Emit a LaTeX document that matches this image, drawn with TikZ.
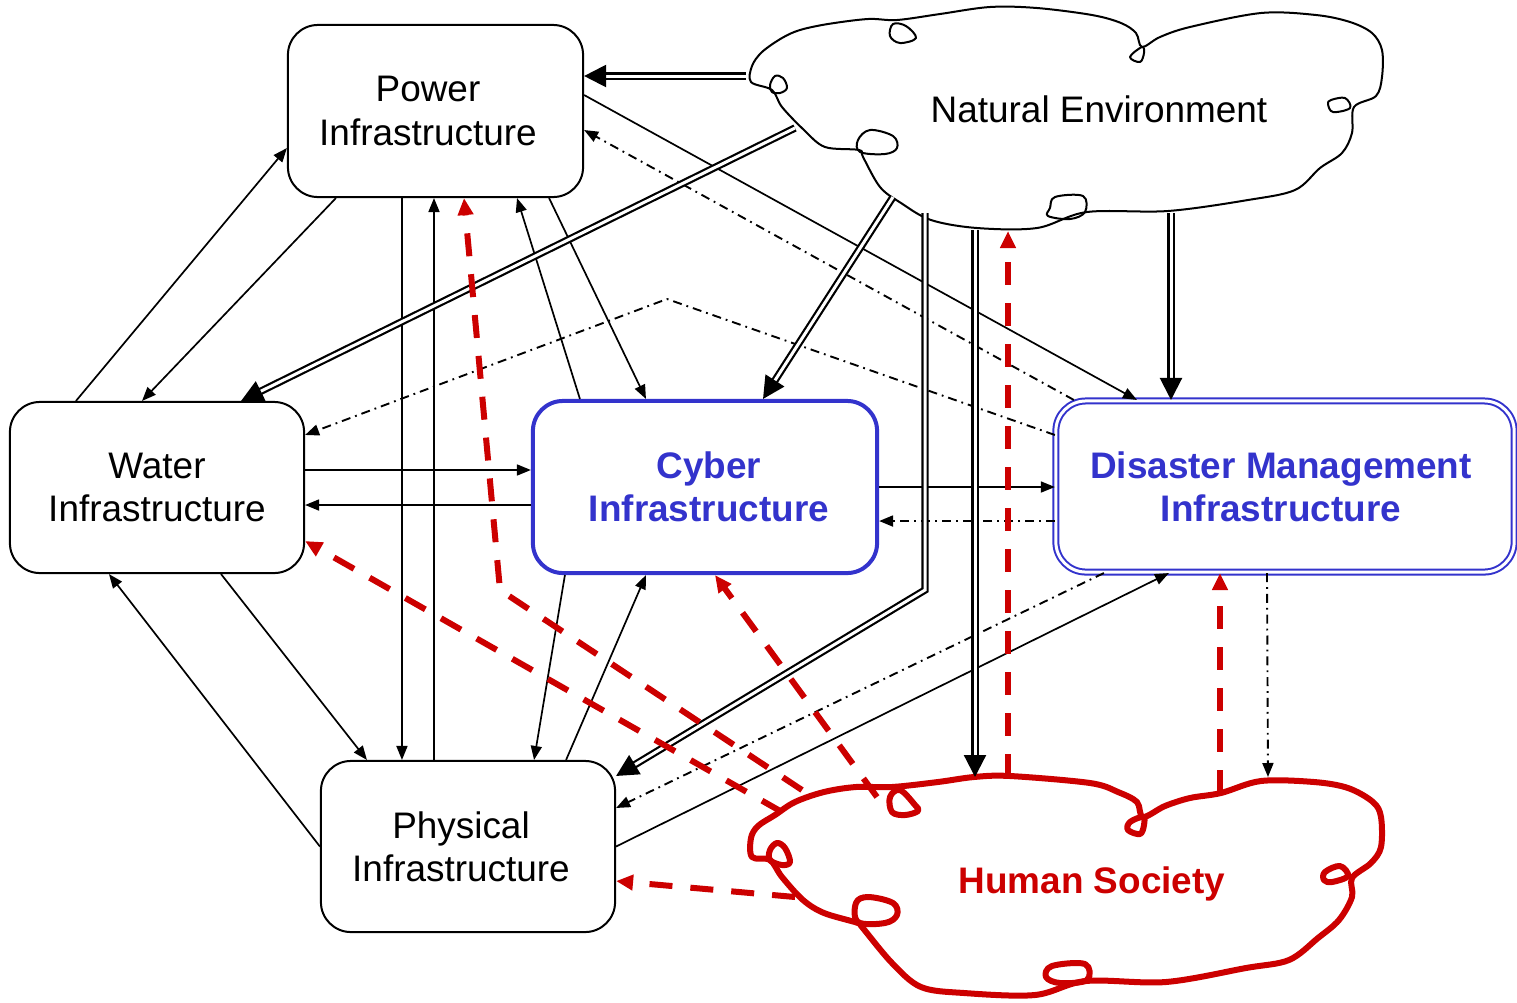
\documentclass[tikz,border=0pt]{standalone}
\usepackage{fontspec}
\setmainfont{Liberation Sans}
\usetikzlibrary{arrows.meta,calc}
\definecolor{netblue}{RGB}{51,51,204}
\definecolor{humanred}{RGB}{204,0,0}
% nudge a centred line sideways inside its box
\newcommand{\lineshift}[2]{#2\kern#1}
\begin{document}
\begin{tikzpicture}[x=0.01cm,y=-0.01cm,
  lbl/.style={font=\fontsize{10.5pt}{12.3pt}\selectfont},
  box/.style={lbl, draw, line width=0.02cm, rounded corners=0.3cm, align=center, inner sep=0pt},
  cyberbox/.style={box, draw=netblue, line width=0.04cm, text=netblue, font=\fontsize{10.5pt}{12.3pt}\selectfont\bfseries},
  dmbox/.style={box, draw=netblue, double=white, double distance=0.03cm, line width=0.02cm, text=netblue, font=\fontsize{10.5pt}{12.3pt}\selectfont\bfseries},
  link/.style={line width=0.017cm, -{Triangle[length=0.14cm,width=0.11cm]}},
  dlink/.style={line width=0.019cm, dash pattern=on 0.09cm off 0.05cm on 0.018cm off 0.05cm, -{Triangle[length=0.14cm,width=0.11cm]}},
  nlink/.style={double=white, line width=0.022cm, double distance=0.03cm, -{Triangle[length=0.22cm,width=0.22cm]}},
  hlink/.style={humanred, line width=0.06cm, dash pattern=on 0.23cm off 0.18cm, -{Triangle[length=0.17cm,width=0.15cm]}},
  natline/.style={line width=0.02cm, line join=round},
  humline/.style={humanred, line width=0.06cm, line join=round},
]
\useasboundingbox (0,0) rectangle (1517,1002);

% ---------- infrastructure boxes ----------
\node[box, minimum width=2.95cm, minimum height=1.72cm] (power) at (435.5,111)
  {\lineshift{0.15cm}{Power}\\\lineshift{0.15cm}{Infrastructure}};
\node[box, minimum width=2.94cm, minimum height=1.71cm] (water) at (157,487.5)
  {Water\\Infrastructure};
\node[cyberbox, minimum width=3.44cm, minimum height=1.72cm] (cyber) at (705,487)
  {\lineshift{-0.08cm}{Cyber}\\\lineshift{-0.08cm}{Infrastructure}};
\node[dmbox, minimum width=4.58cm, minimum height=1.71cm] (disaster) at (1285,486.5)
  {\lineshift{0.08cm}{Disaster Management}\\\lineshift{0.08cm}{Infrastructure}};
\node[box, minimum width=2.94cm, minimum height=1.71cm] (physical) at (468,846.5)
  {\lineshift{0.14cm}{Physical}\\\lineshift{0.14cm}{Infrastructure}};

% ---------- natural environment cloud ----------
\draw[natline] plot[smooth cycle, tension=0.55] coordinates {
  (751,82) (752,66) (762,52) (782,38) (800,30) (828,24) (868,19) (897,20)
  (940,14) (990,7) (1037,8) (1092,15) (1121,23) (1136,33) (1142,47)
  (1160,37) (1190,27) (1261,13) (1316,15) (1350,22) (1372,33) (1382,50)
  (1382,77) (1376,96) (1354,107) (1352,133) (1342,153) (1320,168)
  (1295,190) (1248,200) (1168,211) (1087,212) (1037,228) (977,228)
  (931,220) (901,203) (880,187) (863,157) (859,150) (825,147) (804,130)
  (782,107) (772,90)};
\draw[natline] plot[smooth cycle, tension=0.6] coordinates {(893,24) (890,36) (900,43) (916,38) (906,26)};
\draw[natline] plot[smooth cycle, tension=0.6] coordinates {(1142,47) (1130,57) (1140,62) (1144,53)};
\draw[natline] plot[smooth cycle, tension=0.6] coordinates {(1328,104) (1333,112) (1350,108) (1345,98) (1331,100)};
\draw[natline] plot[smooth cycle, tension=0.6] coordinates {(1050,208) (1055,197) (1083,196) (1085,212) (1070,219) (1048,216)};
\draw[natline] plot[smooth cycle, tension=0.6] coordinates {(858,140) (870,130) (893,136) (897,148) (885,154) (860,152)};
\draw[natline] plot[smooth cycle, tension=0.6] coordinates {(770,85) (775,76) (783,78) (787,88) (780,93) (772,92)};
\node[lbl, anchor=base] (natural) at (1099,122) {Natural Environment};

% ---------- human society cloud ----------
\draw[humline] plot[smooth cycle, tension=0.55] coordinates {
  (752,857) (751,838) (758,826) (775,815) (795,802) (824,792) (856,787)
  (892,787) (938,782) (974,777) (1010,776) (1090,783) (1118,792)
  (1137,802) (1143,817) (1165,806) (1190,798) (1221,793) (1261,781)
  (1314,782) (1348,788) (1373,802) (1381,817) (1381,847) (1371,863)
  (1352,878) (1352,897) (1339,920) (1318,938) (1289,960) (1246,968)
  (1166,982) (1086,981) (1035,995) (964,993) (921,987) (892,963)
  (862,927) (858,923) (824,913) (803,900) (782,877) (770,860)};
\draw[humline] plot[smooth cycle, tension=0.6] coordinates {(890,797) (900,790) (915,805) (918,811) (905,815) (892,812)};
\draw[humline] plot[smooth cycle, tension=0.6] coordinates {(1143,817) (1130,822) (1128,830) (1140,834) (1144,825)};
\draw[humline] plot[smooth cycle, tension=0.6] coordinates {(1325,872) (1340,866) (1348,876) (1332,882) (1324,880)};
\draw[humline] plot[smooth cycle, tension=0.6] coordinates {(1046,977) (1052,966) (1085,964) (1087,980) (1060,983)};
\draw[humline] plot[smooth cycle, tension=0.6] coordinates {(856,903) (868,897) (893,903) (897,915) (885,923) (858,922)};
\draw[humline] plot[smooth cycle, tension=0.6] coordinates {(770,850) (777,843) (785,848) (790,862) (782,865) (770,860)};
\node[lbl, anchor=base, text=humanred, font=\fontsize{10.5pt}{12.3pt}\selectfont\bfseries] (human) at (1092,893) {Human Society};

% ---------- connector end points on the clouds ----------
\coordinate (neA) at (746,76);
\coordinate (neB) at (795,128);
\coordinate (neC) at (893,197);
\coordinate (neD) at (925,213);
\coordinate (neBend) at (925,590);
\coordinate (neE) at (975,230);
\coordinate (neF) at (1171,213);
\coordinate (neG) at (1008,231);
\coordinate (hsE) at (975,777);
\coordinate (hsDM) at (1268,777);
\coordinate (hsF) at (1008,777);
\coordinate (hsA) at (802,790);
\coordinate (hsBend) at (500,590);
\coordinate (hsB) at (782,812);
\coordinate (hsC) at (877,797);
\coordinate (hsG) at (795,897);
\coordinate (hsH) at (1220,793);
\coordinate (peak) at (667,299);

% ---------- solid links between infrastructures ----------
\draw[link] ([xshift=0.67cm]water.north west) -- ([yshift=-0.37cm]power.west);
\draw[link] ([xshift=0.49cm]power.south west) -- ([xshift=1.33cm]water.north west);
\draw[link] ([xshift=1.15cm]power.south west) -- ([xshift=0.82cm]physical.north west);
\draw[link] ([xshift=1.14cm]physical.north west) -- ([xshift=1.47cm]power.south west);
\draw[link] ([xshift=0.49cm]cyber.north west) -- ([xshift=2.30cm]power.south west);
\draw[link] ([xshift=2.62cm]power.south west) -- ([xshift=1.15cm]cyber.north west);
\draw[link] ([yshift=0.16cm]power.east) -- ([xshift=0.82cm]disaster.north west);
\draw[link] ([yshift=0.175cm]water.east) -- ([yshift=0.175cm]water.east -| cyber.west);
\draw[link] ([yshift=-0.18cm]cyber.west) -- ([yshift=-0.18cm]cyber.west -| water.east);
\draw[link] (cyber.east) -- (cyber.east -| disaster.west);
\draw[link] ([xshift=2.12cm]water.south west) -- ([xshift=0.47cm]physical.north west);
\draw[link] (physical.west) -- ([xshift=1.00cm]water.south west);
\draw[link] ([xshift=0.34cm]cyber.south west) -- ([xshift=2.14cm]physical.north west);
\draw[link] ([xshift=2.46cm]physical.north west) -- ([xshift=1.15cm]cyber.south west);
\draw[link] (physical.east) -- ([xshift=1.14cm]disaster.south west);

% ---------- dash-dotted links from disaster management ----------
\draw[dlink] ([xshift=0.19cm]disaster.north west) -- ([yshift=-0.19cm]power.east);
\draw[dlink] ([yshift=0.515cm]disaster.west) -- (peak) -- ([yshift=0.525cm]water.east);
\draw[dlink] ([yshift=-0.345cm]disaster.west) -- ([yshift=-0.345cm]disaster.west -| cyber.east);
\draw[dlink] ([xshift=0.49cm]disaster.south west) -- ([yshift=0.385cm]physical.east);
\draw[dlink] ([xshift=2.12cm]disaster.south west) -- (hsDM);

% ---------- double links from the natural environment ----------
\draw[nlink] (neA) -- (neA -| power.east);
\draw[nlink] (neB) -- ([xshift=2.32cm]water.north west);
\draw[nlink] (neC) -- ([xshift=2.32cm]cyber.north west);
\draw[nlink] (neD) -- (neBend) -- ([yshift=-0.16cm]physical.north east);
\draw[nlink] (neE) -- (hsE);
\draw[nlink] (neF) -- (neF |- disaster.north);

% ---------- dashed links from human society ----------
\draw[hlink] (hsF) -- (neG);
\draw[hlink] (hsA) -- (hsBend) -- ([xshift=1.77cm]power.south west);
\draw[hlink] (hsB) -- ([yshift=-0.535cm]water.east);
\draw[hlink] (hsC) -- ([xshift=1.84cm]cyber.south west);
\draw[hlink] (hsG) -- ([yshift=-0.345cm]physical.east);
\draw[hlink] (hsH) -- (hsH |- disaster.south);
\end{tikzpicture}
\end{document}
